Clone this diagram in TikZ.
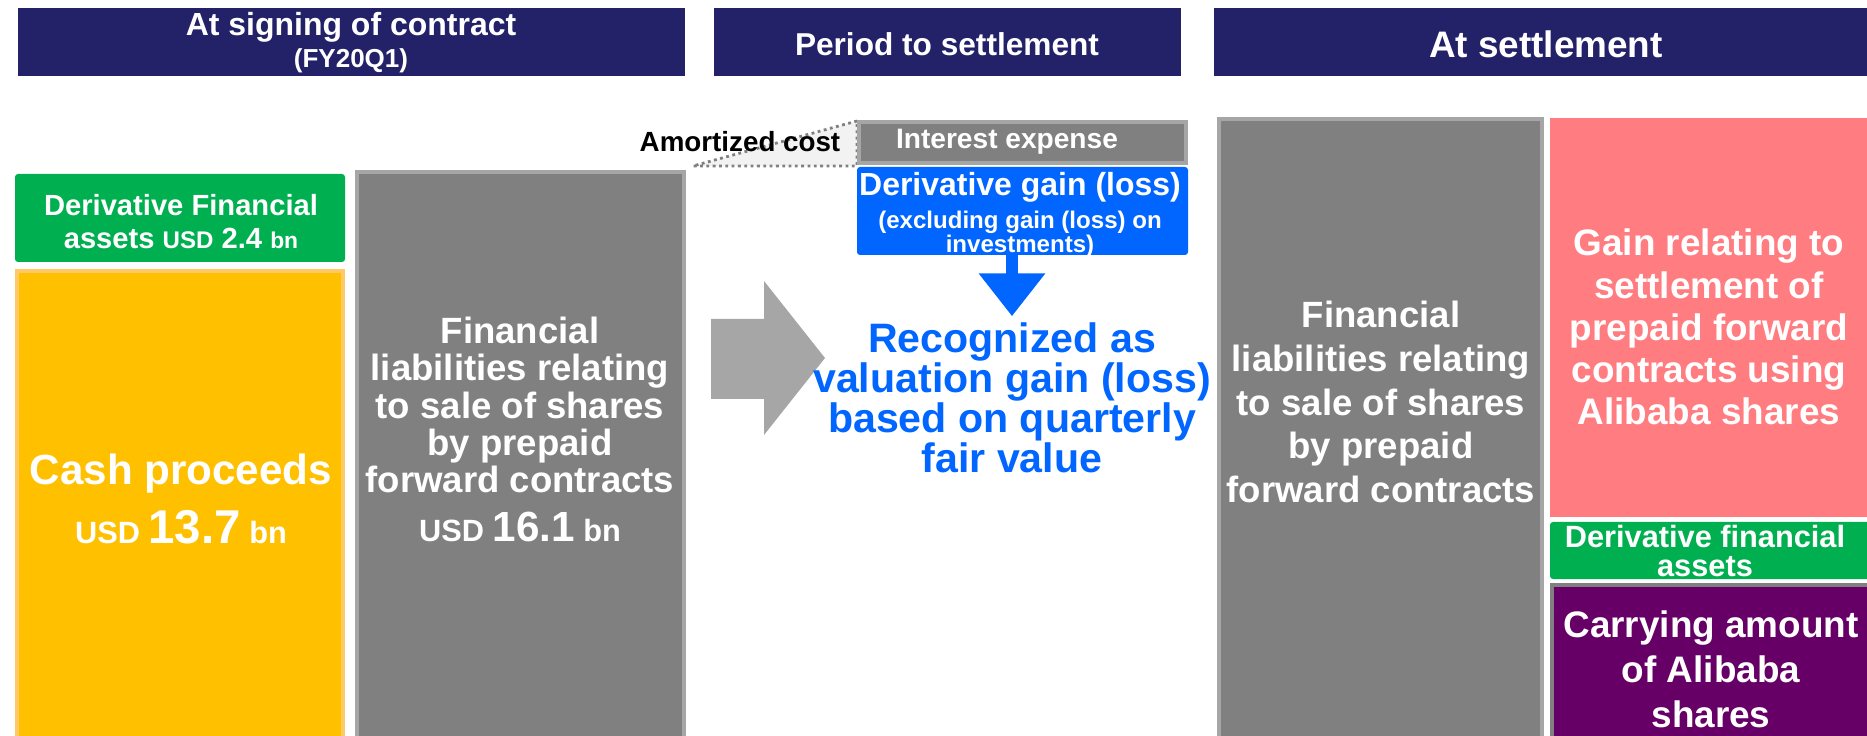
\documentclass[tikz,border=0pt]{standalone}
\usepackage{fontspec}
\setmainfont{Liberation Sans}
\usepackage{tikz}
\usetikzlibrary{arrows.meta}

\definecolor{navy}{HTML}{232168}
\definecolor{liabgray}{HTML}{808080}
\definecolor{rimgray}{HTML}{A6A6A6}
\definecolor{assetgreen}{HTML}{00B050}
\definecolor{cashyellow}{HTML}{FFC000}
\definecolor{cashrim}{HTML}{FFCA66}
\definecolor{gainblue}{HTML}{0066FF}
\definecolor{gainpink}{HTML}{FF7C80}
\definecolor{sharepurple}{HTML}{660066}
\definecolor{costfill}{HTML}{F2F2F2}

\newcommand{\pxu}{0.02cm}
\newcommand{\fs}[2]{\fontsize{#1}{#2}\selectfont}

\tikzset{
  block/.style={anchor=north west, inner sep=0pt, outer sep=0pt},
  header/.style={block, fill=navy},
  liab/.style={block, fill=liabgray, draw=rimgray, line width=4*\pxu},
  asset/.style={block, fill=assetgreen, rounded corners=3*\pxu},
  txt/.style={inner sep=0pt, align=center, text=white, font=\bfseries},
}

\begin{document}
\begin{tikzpicture}[x=0.02cm, y=-0.02cm]
    \useasboundingbox (0,0) rectangle (1867,736);
    \clip (0,0) rectangle (1867,736);

    % column headers
    \node[header, minimum width=667*\pxu, minimum height=68*\pxu] (signhead) at (18,8) {};
    \node[header, minimum width=467*\pxu, minimum height=68*\pxu] (periodhead) at (714,8) {};
    \node[header, minimum width=680*\pxu, minimum height=68*\pxu] (settlehead) at (1214,8) {};
    \node[txt, font=\bfseries\fs{18.2}{20}] (signtitle) at (351,27) {At signing of contract};
    \node[txt, font=\bfseries\fs{14.8}{16}] (signdate) at (351,61) {(FY20Q1)};
    \node[txt, font=\bfseries\fs{18}{20}] (periodtitle) at (947,44) {Period to settlement};
    \node[txt, font=\bfseries\fs{21}{23}] (settletitle) at (1546,44) {At settlement};

    % at signing
    \node[asset, minimum width=330*\pxu, minimum height=88*\pxu] (derivbox) at (15,174) {};
    \node[txt, font=\bfseries\fs{16.6}{18}] (derivtop) at (181,205) {Derivative Financial};
    \node[txt, font=\bfseries\fs{16.6}{18}] (derivamt) at (181,238)
        {assets {\fs{13.7}{15}USD} 2.4 {\fs{13}{15}bn}};
    \node[block, fill=cashyellow, draw=cashrim, line width=4*\pxu,
          minimum width=326*\pxu, minimum height=520*\pxu] (cashbox) at (17,271) {};
    \node[txt, font=\bfseries\fs{24}{26}] (cashtitle) at (181,474) {Cash proceeds};
    \node[txt, font=\bfseries\fs{17.5}{19}] (cashamt) at (181,527)
        {USD {\fs{27}{29}13.7} bn};
    \node[liab, minimum width=327*\pxu, minimum height=600*\pxu] (liabbox) at (357,172) {};
    \node[txt, font=\bfseries\fs{20.8}{21.3}] (liabtext) at (520,405)
        {Financial\\liabilities relating\\to sale of shares\\by prepaid\\forward contracts};
    \node[txt, font=\bfseries\fs{17.5}{19}] (liabamt) at (520,527)
        {USD {\fs{24}{26}16.1} bn};

    % move to the period column
    \fill[rimgray] (711,319) -- (764,319) -- (764,281) -- (825,358)
        -- (764,435) -- (764,399) -- (711,399) -- cycle;

    % period to settlement
    \coordinate (costtip) at (693,166);
    \filldraw[fill=costfill, draw=gray, dotted, line width=1.6pt]
        (857,121) -- (costtip) -- (857,166) -- cycle;
    \node[txt, text=black, font=\bfseries\fs{15.8}{17}] (amortized) at (740,142) {Amortized cost};
    \node[liab, minimum width=327*\pxu, minimum height=41*\pxu] (interest) at (859,122) {};
    \node[txt, font=\bfseries\fs{16}{18}] (interesttext) at (1007,142) {Interest expense};
    \node[block, fill=gainblue, rounded corners=3*\pxu,
          minimum width=331*\pxu, minimum height=88*\pxu] (gain) at (857,167) {};
    \node[txt, font=\bfseries\fs{18.2}{20}] (gaintitle) at (1020,187) {Derivative gain (loss)};
    \node[txt, font=\bfseries\fs{13.7}{12}] (gainnote) at (1020,234)
        {(excluding gain (loss) on\\investments)};
    \node[txt, text=gainblue, font=\bfseries\fs{23.4}{21.6}] (recog) at (1012,398)
        {Recognized as\\valuation gain (loss)\\based on quarterly\\fair value};
    \draw[gainblue, line width=12*\pxu, -{Triangle[width=1.28cm, length=0.86cm]}, shorten >=0.12cm]
        (gain.south -| recog.north) -- (recog.north);

    % at settlement
    \node[liab, minimum width=323*\pxu, minimum height=660*\pxu] (settleliab) at (1219,119) {};
    \node[txt, font=\bfseries\fs{20.8}{25}] (settleliabtext) at (1381,402)
        {Financial\\liabilities relating\\to sale of shares\\by prepaid\\forward contracts};
    \node[block, fill=gainpink, minimum width=330*\pxu, minimum height=399*\pxu] (pinkbox) at (1550,118) {};
    \node[txt, font=\bfseries\fs{21}{24}] (pinktext) at (1709,327)
        {Gain relating to\\settlement of\\prepaid forward\\contracts using\\Alibaba shares};
    \node[asset, minimum width=330*\pxu, minimum height=57*\pxu] (settlederiv) at (1550,522) {};
    \node[txt, font=\bfseries\fs{17.5}{16.5}] (settlederivtext) at (1705,551)
        {Derivative financial\\assets};
    \node[block, fill=sharepurple, draw=liabgray, line width=4*\pxu,
          minimum width=330*\pxu, minimum height=200*\pxu] (sharebox) at (1552,585) {};
    \node[txt, font=\bfseries\fs{21}{25.6}] (sharetext) at (1711,669)
        {Carrying amount\\of Alibaba\\shares};
\end{tikzpicture}
\end{document}
